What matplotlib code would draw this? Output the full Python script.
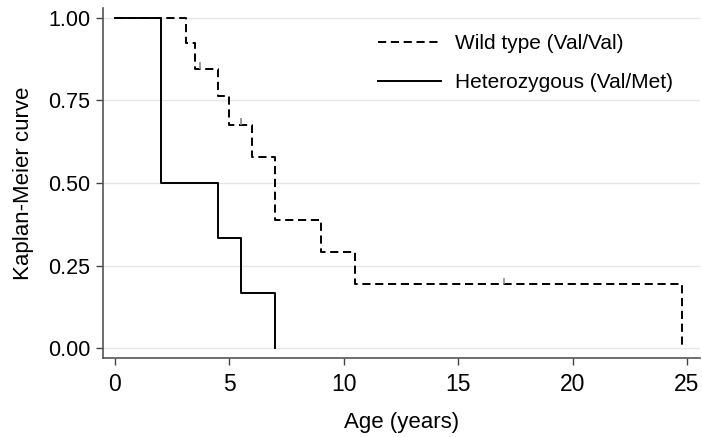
import matplotlib.pyplot as plt

plt.rcParams['font.family'] = ['Liberation Sans', 'DejaVu Sans']

# Kaplan-Meier step data (time of each step, survival after the step)
wild_times = [0, 3.1, 3.5, 4.5, 5.0, 6.0, 7.0, 9.0, 10.5, 24.8]
wild_surv = [1.0, 0.923, 0.846, 0.762, 0.677, 0.580, 0.387, 0.290, 0.193, 0.0]
wild_cens_t = [3.7, 5.5, 17.0]
wild_cens_s = [0.846, 0.677, 0.193]

het_times = [0, 2.0, 4.5, 5.5, 7.0]
het_surv = [1.0, 0.5, 0.333, 0.167, 0.0]

yticks = [0, 0.25, 0.5, 0.75, 1.0]
ytick_labels = ['0.00', '0.25', '0.50', '0.75', '1.00']
xticks = [0, 5, 10, 15, 20, 25]

fig = plt.figure(figsize=(7.02, 4.37), dpi=100)
ax = fig.add_axes([0.1467, 0.1808, 0.8505, 0.8009])

for y in yticks:
    ax.axhline(y, color='#e6e6e6', lw=1.0, zorder=0)

ax.step(wild_times, wild_surv, where='post', color='black', lw=1.4,
        dashes=(4.2, 2.4), label='Wild type (Val/Val)', zorder=3)
ax.step(het_times, het_surv, where='post', color='black', lw=1.4,
        label='Heterozygous (Val/Met)', zorder=4)

# censoring marks (small ticks above the curve)
ax.vlines(wild_cens_t, wild_cens_s, [s + 0.02 for s in wild_cens_s],
          color='#8a8a8a', lw=1.2, zorder=5)

ax.set_xlim(-0.52, 25.57)
ax.set_ylim(-0.03, 1.03)
ax.set_xticks(xticks)
ax.set_yticks(yticks)
ax.set_yticklabels(ytick_labels)
ax.tick_params(axis='both', colors='#444444', labelcolor='black',
               length=5, width=1.0, pad=4)
ax.tick_params(axis='y', labelsize=15.5)
ax.tick_params(axis='x', labelsize=16.5, pad=6)

for side in ['top', 'right']:
    ax.spines[side].set_visible(False)
for side in ['left', 'bottom']:
    ax.spines[side].set_color('#555555')
    ax.spines[side].set_linewidth(1.2)

ax.set_xlabel('Age (years)', fontsize=16, labelpad=11)
ax.set_ylabel('Kaplan-Meier curve', fontsize=16, labelpad=10)

ax.legend(loc='upper left', bbox_to_anchor=(0.512, 0.965),
          bbox_transform=fig.transFigure, frameon=False, fontsize=15,
          handlelength=3.0, handletextpad=0.7, labelspacing=0.95)

fig.savefig('out.png', dpi=100)
